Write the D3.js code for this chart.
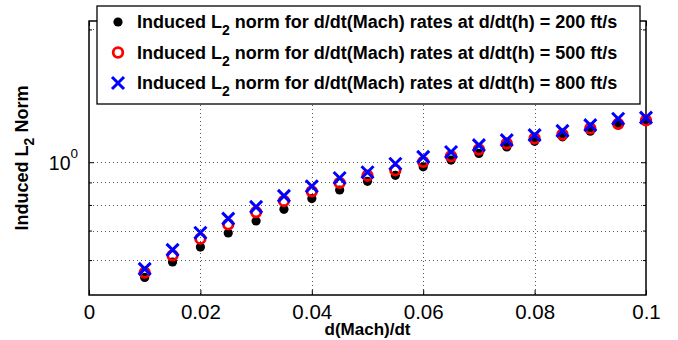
<!DOCTYPE html>
<html><head><meta charset="utf-8">
<script src="https://cdn.jsdelivr.net/npm/d3@7"></script>
<style>
body{margin:0;background:#fff}
svg{display:block}
text{font-family:"Liberation Sans",Arial,Helvetica,sans-serif}
</style>
</head><body>
<svg id="c" width="678" height="340"></svg>
<script>
// ---- data ----
const xValues   = [0.01,0.015,0.02,0.025,0.03,0.035,0.04,0.045,0.05,0.055,0.06,0.065,0.07,0.075,0.08,0.085,0.09,0.095,0.1];
const series200 = [0.548,0.594,0.642,0.691,0.736,0.782,0.827,0.865,0.905,0.934,0.976,1.011,1.047,1.083,1.115,1.142,1.176,1.214,1.248];
const series500 = [0.562,0.615,0.671,0.723,0.771,0.817,0.859,0.898,0.932,0.959,1.002,1.032,1.069,1.103,1.132,1.156,1.193,1.222,1.244];
const series800 = [0.573,0.633,0.692,0.745,0.792,0.839,0.882,0.921,0.949,0.992,1.028,1.055,1.093,1.122,1.152,1.178,1.214,1.255,1.262];
const xTicks      = [0,0.02,0.04,0.06,0.08,0.1];
const xTickLabels = ["0","0.02","0.04","0.06","0.08","0.1"];
const yMajorTicks = [1];
const yMinorTicks = [0.6,0.7,0.8,0.9,2];
const rateLabels  = ["200","500","800"];

const svg = d3.select("#c");
const L = 89, R = 646, T = 21, B = 295;
const x = d3.scaleLinear().domain([0,0.1]).range([L,R]);
const y = d3.scaleLog().domain([0.5,2.09]).range([B,T]);

// grid lines (dotted)
const grid = svg.append("g").attr("stroke","#555").attr("stroke-width",1).attr("stroke-dasharray","1,3");
grid.selectAll("line.v").data(xTicks.filter(d=>d>0 && d<0.1)).join("line")
  .attr("x1",d=>Math.round(x(d))+0.5).attr("x2",d=>Math.round(x(d))+0.5).attr("y1",T).attr("y2",B);
grid.selectAll("line.h").data(yMajorTicks.concat(yMinorTicks)).join("line")
  .attr("y1",d=>Math.round(y(d))+0.5).attr("y2",d=>Math.round(y(d))+0.5).attr("x1",L).attr("x2",R);

// axes (inward ticks, matlab style)
function styleAxis(g){ g.select(".domain").remove(); g.selectAll("line").attr("stroke","#000"); }
svg.append("g").attr("transform",`translate(0,${B})`)
  .call(d3.axisBottom(x).tickValues(xTicks).tickFormat((d,i)=>xTickLabels[i]).tickSize(-5).tickPadding(9))
  .call(styleAxis)
  .selectAll("text").attr("font-size",20.5).attr("fill","#000").attr("font-family","Liberation Sans, Arial, sans-serif");
svg.append("g").attr("transform",`translate(0,${T})`)
  .call(d3.axisTop(x).tickValues(xTicks).tickFormat("").tickSize(-5)).call(styleAxis);
svg.append("g").attr("transform",`translate(${L},0)`)
  .call(d3.axisLeft(y).tickValues(yMajorTicks).tickFormat("").tickSize(-5)).call(styleAxis);
svg.append("g").attr("transform",`translate(${L},0)`)
  .call(d3.axisLeft(y).tickValues(yMinorTicks).tickFormat("").tickSize(-3)).call(styleAxis);
svg.append("g").attr("transform",`translate(${R},0)`)
  .call(d3.axisRight(y).tickValues(yMajorTicks).tickFormat("").tickSize(-5)).call(styleAxis);
svg.append("g").attr("transform",`translate(${R},0)`)
  .call(d3.axisRight(y).tickValues(yMinorTicks).tickFormat("").tickSize(-3)).call(styleAxis);

// y tick label 10^0
yMajorTicks.forEach(v=>{
  const t = svg.append("text").attr("x",L-11).attr("y",y(v)+8).attr("text-anchor","end").attr("font-size",19.5).attr("fill","#000");
  t.append("tspan").text("10");
  t.append("tspan").attr("dy",-12).attr("font-size",13.5).text(Math.round(Math.log10(v)));
});

// box
svg.append("rect").attr("x",L).attr("y",T).attr("width",R-L).attr("height",B-T)
  .attr("fill","none").attr("stroke","#000").attr("stroke-width",1.5);

// data marks
const pts = (arr)=>xValues.map((xv,i)=>({x:xv,y:arr[i]}));
svg.append("g").selectAll("circle").data(pts(series200)).join("circle")
  .attr("cx",d=>x(d.x)).attr("cy",d=>y(d.y)).attr("r",4.6).attr("fill","#000");
svg.append("g").selectAll("circle").data(pts(series500)).join("circle")
  .attr("cx",d=>x(d.x)).attr("cy",d=>y(d.y)).attr("r",4.8).attr("fill","none").attr("stroke","#f00").attr("stroke-width",2.8);
const xs = 6;
const cross = d=>`M${x(d.x)-xs},${y(d.y)-xs}L${x(d.x)+xs},${y(d.y)+xs}M${x(d.x)-xs},${y(d.y)+xs}L${x(d.x)+xs},${y(d.y)-xs}`;
svg.append("g").selectAll("path").data(pts(series800)).join("path")
  .attr("d",cross).attr("stroke","#00f").attr("stroke-width",3).attr("fill","none");

// axis titles
svg.append("text").attr("x",(L+R)/2).attr("y",335).attr("text-anchor","middle")
  .attr("font-size",17).attr("font-weight","bold").text("d(Mach)/dt");
const yl = svg.append("text").attr("transform",`translate(28,${(T+B)/2}) rotate(-90)`).attr("text-anchor","middle")
  .attr("font-size",18).attr("font-weight","bold");
yl.append("tspan").text("Induced L");
yl.append("tspan").attr("dy",6).attr("font-size",14).text("2");
yl.append("tspan").attr("dy",-6).text(" Norm");

// legend
const lg = svg.append("g");
lg.append("rect").attr("x",97).attr("y",6).attr("width",543).attr("height",98)
  .attr("fill","#fff").attr("stroke","#000").attr("stroke-width",1.3);
const rowY = [22,52.5,83];
rateLabels.forEach((r,i)=>{
  const cy = rowY[i], cx = 118;
  if(i===0) lg.append("circle").attr("cx",cx).attr("cy",cy).attr("r",4.6).attr("fill","#000");
  if(i===1) lg.append("circle").attr("cx",cx).attr("cy",cy).attr("r",4.8).attr("fill","none").attr("stroke","#f00").attr("stroke-width",2.8);
  if(i===2) lg.append("path").attr("d",`M${cx-xs},${cy-xs}L${cx+xs},${cy+xs}M${cx-xs},${cy+xs}L${cx+xs},${cy-xs}`).attr("stroke","#00f").attr("stroke-width",3);
  const t = lg.append("text").attr("x",137).attr("y",cy+6).attr("font-size",18).attr("font-weight","bold").attr("fill","#000");
  t.append("tspan").text("Induced L");
  t.append("tspan").attr("dy",7).attr("font-size",14).text("2");
  t.append("tspan").attr("dy",-7).text(` norm for d/dt(Mach) rates at d/dt(h) = ${r} ft/s`);
});
</script>
</body></html>
